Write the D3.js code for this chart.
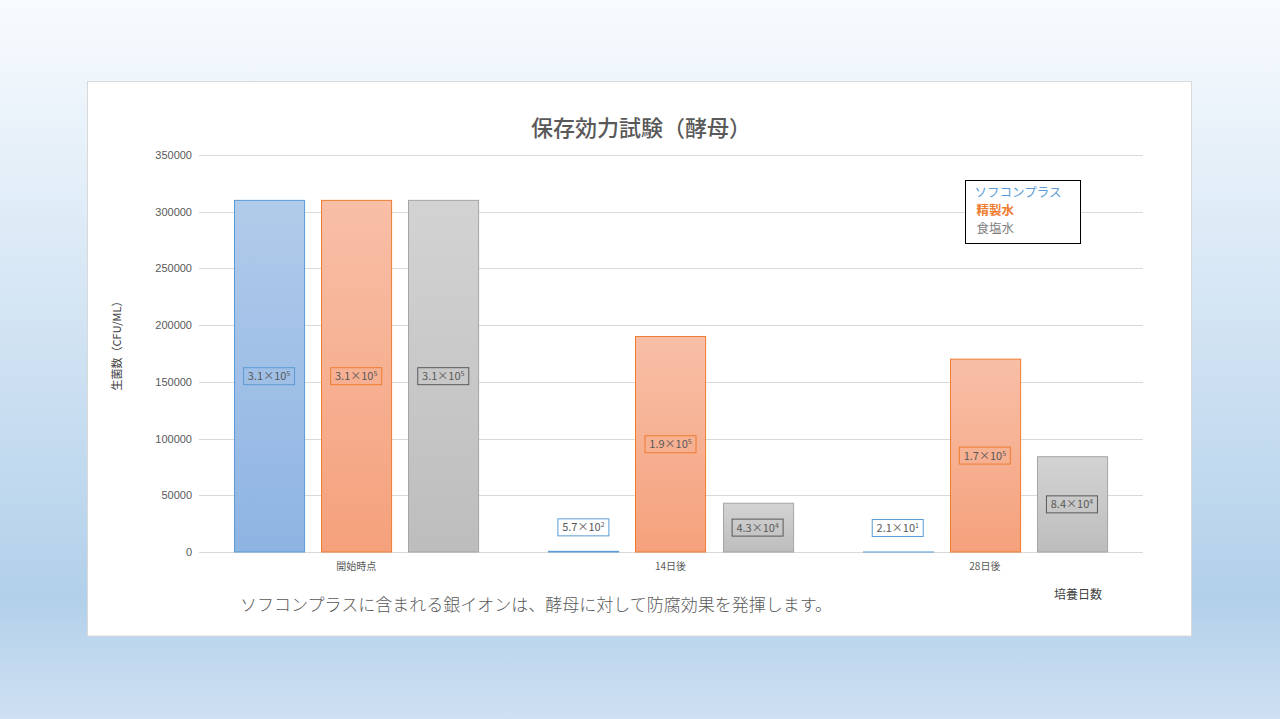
<!DOCTYPE html>
<html><head><meta charset="utf-8">
<script src="https://cdn.jsdelivr.net/npm/d3@7"></script>
<style>
html,body{margin:0;padding:0;width:1280px;height:719px;overflow:hidden;}
svg{display:block;font-family:"Noto Sans CJK JP","Noto Sans",sans-serif;}
</style></head><body>
<svg id="c" width="1280" height="719"></svg>
<script>
const title = "保存効力試験（酵母）";
const categories = ["開始時点", "14日後", "28日後"];
const seriesNames = ["ソフコンプラス", "精製水", "食塩水"];
const softValues = [310000, 570, 21];
const waterValues = [310000, 190000, 170000];
const salineValues = [310000, 43000, 84000];
const softLabels = [["3.1", "5"], ["5.7", "2"], ["2.1", "1"]];
const waterLabels = [["3.1", "5"], ["1.9", "5"], ["1.7", "5"]];
const salineLabels = [["3.1", "5"], ["4.3", "4"], ["8.4", "4"]];
const yTicks = [0, 50000, 100000, 150000, 200000, 250000, 300000, 350000];
const yTitle = "生菌数（CFU/ML）";
const xTitle = "培養日数";
const caption = "ソフコンプラスに含まれる銀イオンは、酵母に対して防腐効果を発揮します。";

(function(){
const seriesValues = [softValues, waterValues, salineValues];
const seriesLabels = [softLabels, waterLabels, salineLabels];
const stroke = ["#5b9bd5", "#ed7d31", "#a5a5a5"];
const labelStroke = ["#5b9bd5", "#ed7d31", "#595959"];
const gradTop = ["#b1cbea", "#f8bfa7", "#d3d3d3"];
const gradBot = ["#8eb4e3", "#f5a17c", "#bdbdbd"];
const legendColor = ["#5b9bd5", "#ed7d31", "#7f7f7f"];

const svg = d3.select("#c");
const defs = svg.append("defs");
const bg = defs.append("linearGradient").attr("id","bg").attr("x1",0).attr("y1",0).attr("x2",0).attr("y2",1);
bg.append("stop").attr("offset","0").attr("stop-color","#f8fbfe");
bg.append("stop").attr("offset","0.83").attr("stop-color","#b2d0ea");
bg.append("stop").attr("offset","1").attr("stop-color","#cee0f2");
stroke.forEach((s,i)=>{
  const g = defs.append("linearGradient").attr("id","g"+i).attr("x1",0).attr("y1",0).attr("x2",0).attr("y2",1);
  g.append("stop").attr("offset","0").attr("stop-color",gradTop[i]);
  g.append("stop").attr("offset","1").attr("stop-color",gradBot[i]);
});
svg.append("rect").attr("width",1280).attr("height",719).attr("fill","url(#bg)");
svg.append("rect").attr("x",87.5).attr("y",81.5).attr("width",1104).attr("height",554.5)
  .attr("fill","#fff").attr("stroke","#d9d9d9");

const pL = 199, pR = 1142, pT = 155, pB = 552;
const y = d3.scaleLinear().domain([0, 350000]).range([pB, pT]);
const x0 = d3.scaleBand().domain(categories).range([pL, pR]).padding(0);
const x1 = d3.scaleBand().domain(d3.range(3)).range([0, x0.bandwidth()]).paddingInner(0.1954).paddingOuter(0.402);

// grid
svg.append("g").selectAll("line").data(yTicks).join("line")
  .attr("x1",pL).attr("x2",pR+1)
  .attr("y1",d=>Math.round(y(d))+0.5).attr("y2",d=>Math.round(y(d))+0.5)
  .attr("stroke","#d9d9d9").attr("stroke-width",1);

// y axis labels
const yAxis = d3.axisLeft(y).tickValues(yTicks).tickSize(0).tickPadding(7).tickFormat(d3.format("d"));
const ya = svg.append("g").attr("transform",`translate(${pL},0)`).call(yAxis);
ya.select(".domain").remove();
ya.selectAll("text").attr("font-size",11).attr("fill","#595959").attr("font-family","Liberation Sans, Arial, sans-serif");

// x axis labels
const xAxis = d3.axisBottom(x0).tickSize(0).tickPadding(11);
const xa = svg.append("g").attr("transform",`translate(0,${pB})`).call(xAxis);
xa.select(".domain").remove();
xa.selectAll("text").attr("font-size",10).attr("fill","#595959").attr("font-family","Noto Sans CJK JP, sans-serif");

// bars
const data = [];
categories.forEach((c,ci)=>{
  seriesValues.forEach((vals,si)=>{
    data.push({c, ci, si, v: vals[ci], lab: seriesLabels[si][ci]});
  });
});
svg.append("g").selectAll("rect").data(data).join("rect")
  .attr("x",d=>Math.round(x0(d.c)+x1(d.si))+0.5)
  .attr("y",d=>y(d.v))
  .attr("width",x1.bandwidth())
  .attr("height",d=>pB - y(d.v))
  .attr("fill",d=>`url(#g${d.si})`)
  .attr("stroke",d=>stroke[d.si]).attr("stroke-width",1);

// data labels
const lg = svg.append("g");
data.forEach(d=>{
  const cx = x0(d.c)+x1(d.si)+x1.bandwidth()/2;
  const h = pB - y(d.v);
  const inside = h > 30;
  const cy = inside ? (y(d.v)+pB)/2 : y(d.v) - 24;
  const g = lg.append("g").attr("transform",`translate(${cx},${cy})`);
  const bw = 51, bh = 17;
  g.append("rect").attr("x",-bw/2).attr("y",-bh/2).attr("width",bw).attr("height",bh)
    .attr("fill", inside ? "none" : "#fff")
    .attr("stroke",labelStroke[d.si]).attr("stroke-width",1);
  const t = g.append("text").attr("text-anchor","middle").attr("y",4)
    .attr("font-size",11).attr("fill","#595959");
  t.append("tspan").text(d.lab[0] + "×10");
  t.append("tspan").attr("dy",-4).attr("font-size",7).text(d.lab[1]);
});

// title
svg.append("text").attr("x",641).attr("y",136).attr("text-anchor","middle")
  .attr("font-size",22).attr("font-weight",500).attr("fill","#595959").text(title);

// y title
svg.append("text").attr("transform",`translate(121,343) rotate(-90)`).attr("text-anchor","middle")
  .attr("font-size",11).attr("fill","#404040").text(yTitle);

// x title
svg.append("text").attr("x",1078).attr("y",599).attr("text-anchor","middle")
  .attr("font-size",12).attr("fill","#404040").text(xTitle);

// caption
svg.append("text").attr("x",240).attr("y",611)
  .attr("font-size",17).attr("font-weight",300).attr("fill","#595959").text(caption);

// legend
const leg = svg.append("g").attr("transform","translate(965.5,180.5)");
leg.append("rect").attr("width",115).attr("height",63).attr("fill","#fff").attr("stroke","#000");
leg.selectAll("text").data(seriesNames).join("text")
  .attr("x",(d,i)=>i===0?9:11).attr("y",(d,i)=>16.5+i*18)
  .attr("font-size",12.5).attr("fill",(d,i)=>legendColor[i])
  .attr("font-weight",(d,i)=>i===1?"bold":"normal").text(d=>d);
})();
</script>
</body></html>
